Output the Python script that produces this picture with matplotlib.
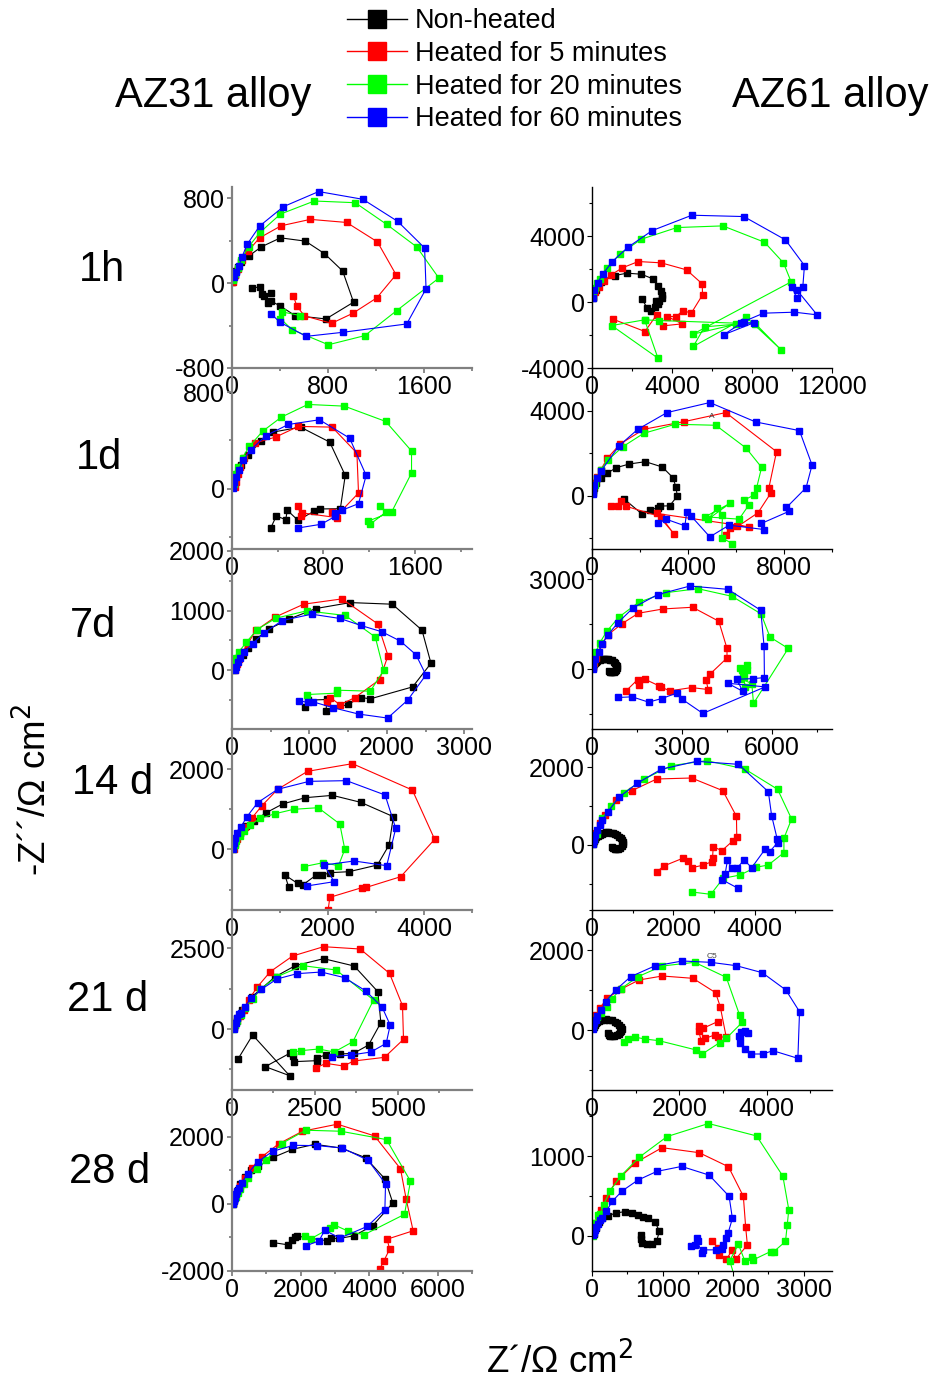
import matplotlib
matplotlib.use('Agg')
import numpy as np
import matplotlib.pyplot as plt
from matplotlib.lines import Line2D
from matplotlib.ticker import MultipleLocator, AutoMinorLocator

plt.rcParams['font.family'] = ['Liberation Sans', 'DejaVu Sans']
plt.rcParams['axes.unicode_minus'] = False

series_labels = ['Non-heated', 'Heated for 5 minutes', 'Heated for 20 minutes', 'Heated for 60 minutes']
series_colors = ['#000000', '#ff0000', '#00ff00', '#0000ff']
row_labels = ['1h', '1d', '7d', '14 d', '21 d', '28 d']
alloys = ['AZ31 alloy', 'AZ61 alloy']

# ---- AZ31, 1h  (Z', -Z'') ----
az31_1h_non = [(3, 9), (11, 41), (22, 73), (36, 114), (50, 151), (78, 199), (141, 256), (244, 341), (404, 426),
               (612, 395), (770, 278), (922, 114), (1013, -180), (783, -338), (526, -306), (404, -218), (327, -170),
               (299, -189), (266, -126), (321, -95), (252, -107), (230, -38), (169, -44)]
az31_1h_5 = [(11, 9), (28, 73), (50, 136), (83, 215), (133, 300), (230, 426), (410, 540), (653, 600), (955, 571),
             (1212, 388), (1367, 79), (1207, -139), (1008, -284), (830, -379), (603, -309), (540, -215), (512, -123)]
az31_1h_20 = [(8, 25), (28, 88), (50, 145), (72, 215), (138, 341), (233, 477), (404, 650), (686, 773), (1027, 757),
              (1290, 552), (1539, 341), (1724, 47), (1373, -259), (1107, -495), (803, -581), (501, -439), (404, -335),
              (415, -271), (570, -306)]
az31_1h_60 = [(14, 57), (36, 104), (58, 158), (83, 246), (127, 366), (230, 537), (429, 720), (722, 862), (1091, 789),
              (1381, 581), (1605, 331), (1617, -54), (1456, -385), (922, -464), (617, -502), (396, -366), (327, -290)]

# ---- AZ61, 1h ----
az61_1h_non = [(50, 243), (183, 749), (466, 1256), (1132, 1620), (1748, 1762), (2464, 1701), (3047, 1418),
               (3297, 1013), (3430, 689), (3497, 446), (3497, 243), (3347, 101), (3180, 81), (3297, -101),
               (3130, -263), (2930, -506), (2747, -324), (2481, 223)]
az61_1h_5 = [(33, 304), (150, 648), (333, 952), (599, 1316), (932, 1640), (1515, 2086), (2314, 2471), (3463, 2390),
             (4729, 1964), (5511, 1114), (5528, 446), (4962, -668), (4545, -506), (4212, -871), (3763, -871),
             (4512, -1316), (3563, -1438), (3230, -770), (2647, -1782), (1049, -1033)]
az61_1h_20 = [(33, 344), (133, 851), (266, 1154), (400, 1418), (766, 2066), (1382, 2916), (2464, 3827), (4246, 4536),
              (6543, 4637), (8625, 3645), (9574, 2390), (9957, 1235), (5045, -1944), (7209, -1337), (5628, -1499),
              (5062, -2693), (7709, -911), (9457, -2896), (8175, -1316), (3347, -1114), (2631, -1073), (982, -1418),
              (3297, -3402), (2631, -1073)]
az61_1h_60 = [(33, 243), (117, 749), (283, 1195), (549, 1721), (1016, 2471), (1798, 3341), (3014, 4354), (4995, 5285),
              (7592, 5204), (9674, 3787), (10623, 2228), (10539, 911), (10240, 243), (9990, 952), (10240, 749),
              (11255, -770), (10123, -608), (8575, -668), (7592, -1175), (6577, -1985), (8125, -1235), (7426, -1276)]

# ---- AZ31, 1d ----
az31_1d_non = [(14, 28), (26, 69), (43, 124), (78, 193), (142, 276), (252, 395), (360, 469), (600, 510), (855, 386),
               (991, 110), (948, -166), (774, -168), (716, -188), (577, -262), (484, -179), (470, -257), (388, -226),
               (339, -326)]
az31_1d_5 = [(26, 14), (38, 55), (49, 124), (72, 179), (107, 257), (200, 378), (383, 428), (580, 516), (876, 510),
             (1093, 295), (1107, -36), (913, -229), (876, -193), (919, -240), (615, -201), (600, -223), (580, -146)]
az31_1d_20 = [(14, 41), (26, 119), (55, 179), (93, 257), (151, 350), (267, 475), (432, 593), (664, 698), (983, 684),
              (1345, 557), (1571, 312), (1571, 130), (1397, -193), (1194, -268), (1209, -295), (1348, -193),
              (1296, -143)]
az31_1d_60 = [(9, 8), (20, 55), (38, 97), (58, 157), (99, 235), (165, 323), (296, 439), (493, 532), (765, 571),
              (1029, 419), (1174, 110), (1107, -124), (962, -179), (904, -201), (904, -229), (780, -295), (577, -326)]

# ---- AZ61, 1d ----
az61_1d_non = [(41, 141), (97, 345), (180, 581), (387, 816), (622, 1051), (1010, 1318), (1549, 1491), (2227, 1600),
               (2932, 1349), (3375, 847), (3499, 392), (3554, -16), (3236, -471), (2821, -486), (2752, -565),
               (2420, -659), (2088, -863), (1328, -141)]
az61_1d_5 = [(41, 267), (124, 581), (207, 894), (360, 1208), (636, 1757), (1176, 2432), (2157, 3122), (3845, 3483),
             (5573, 3907), (7689, 2071), (7371, 377), (7441, 110), (6915, -800), (5573, -1820), (5740, -1491),
             (6044, -1412), (6541, -1459), (2697, -832), (3402, -1773), (2877, -988), (1397, -486), (1189, -251),
             (1079, -486), (802, -486)]
az61_1d_20 = [(41, 235), (111, 502), (207, 816), (360, 1208), (664, 1679), (1286, 2306), (2157, 2934), (3471, 3358),
              (5159, 3311), (6417, 2244), (7067, 1334), (6860, 377), (6749, 31), (6334, -204), (6541, -424),
              (6127, -1098), (4716, -988), (5740, -361), (4841, -1098), (5228, -565), (5435, -894), (5408, -1977),
              (5850, -2244)]
az61_1d_60 = [(28, 78), (55, 267), (97, 502), (221, 816), (387, 1177), (1120, 2338), (1909, 3122), (3126, 3907),
              (4910, 4378), (6818, 3467), (8644, 3060), (9169, 1443), (8920, 377), (8104, -549), (8229, -722),
              (7053, -1302), (7164, -1585), (5712, -1381), (4910, -1930), (4121, -941), (3942, -785), (3872, -1412),
              (3084, -1098), (2752, -1302)]

# ---- AZ31, 7d ----
az31_7d_non = [(22, 28), (39, 100), (82, 211), (138, 250), (211, 378), (306, 517), (474, 689), (736, 856), (1081, 1033),
               (1528, 1133), (2071, 1106), (2454, 672), (2570, 117), (2333, -278), (1787, -478), (1666, -456),
               (1494, -572), (1214, -678), (1227, -489), (981, -500), (943, -611)]
az31_7d_5 = [(39, 11), (65, 100), (95, 194), (138, 306), (202, 444), (310, 667), (555, 889), (926, 1106), (1421, 1195),
             (1881, 778), (2015, 244), (1907, -156), (1589, -456), (1395, -578), (1270, -456), (1223, -528)]
az31_7d_20 = [(17, 11), (30, 83), (56, 211), (86, 306), (185, 467), (319, 678), (568, 872), (964, 995), (1464, 917),
              (1851, 556), (1959, 0), (1787, -350), (1352, -333), (1352, -383), (964, -406)]
az31_7d_60 = [(39, 0), (56, 56), (73, 133), (99, 211), (151, 306), (267, 444), (409, 622), (650, 833), (1029, 939),
              (1395, 867), (1666, 750), (1937, 644), (2174, 489), (2376, 261), (2505, -78), (2269, -500), (2010, -800),
              (1636, -733), (1309, -628), (1046, -528), (977, -539), (861, -506)]

# ---- AZ61, 7d ----
az61_7d_non = [(22, 55), (40, 110), (60, 160), (90, 210), (121, 243), (180, 285), (254, 320), (320, 340), (397, 353),
               (470, 350), (540, 342), (610, 325), (673, 298), (725, 255), (772, 210), (805, 155), (827, 99), (825, 40),
               (805, -11), (770, -55), (728, -88), (680, -100), (629, -99), (590, -75), (551, -44)]
az61_7d_5 = [(33, 77), (77, 210), (143, 386), (320, 827), (529, 1147), (993, 1511), (1544, 1864), (2371, 2007),
             (3353, 2063), (4225, 1599), (4500, 695), (4500, 375), (3927, -165), (3805, -364), (3872, -673),
             (3320, -607), (2592, -717), (2294, -585), (2239, -552), (1765, -331), (1555, -529), (1522, -342),
             (1136, -717)]
az61_7d_20 = [(22, 132), (55, 353), (132, 574), (254, 871), (496, 1268), (893, 1732), (1555, 2228), (2460, 2548),
              (3530, 2680), (4666, 2427), (5636, 1842), (5934, 1070), (6541, 695), (5383, -1136), (5327, -474),
              (4941, -309), (5052, -254), (5107, -585), (5019, -88), (4930, 55), (5162, 132), (5173, -33), (4997, -33)]
az61_7d_60 = [(22, 22), (44, 154), (99, 353), (232, 574), (331, 827), (529, 1147), (871, 1555), (1379, 2051),
              (2184, 2482), (3265, 2769), (4533, 2658), (5625, 1963), (5736, 761), (5747, -276), (5383, -309),
              (4831, -331), (5019, -728), (4522, -463), (5769, -585), (3695, -1467), (3000, -993), (2846, -783),
              (2327, -971), (1886, -1092), (1335, -915), (882, -937)]

# ---- AZ31, 14 d ----
az31_14d_non = [(28, 25), (49, 133), (90, 249), (159, 398), (291, 581), (464, 714), (714, 913), (1054, 1129),
                (1525, 1286), (2093, 1344), (2683, 1170), (3362, 813), (3272, 108), (3029, -390), (2440, -556),
                (2045, -581), (1865, -647), (1747, -647), (1470, -888), (1366, -847), (1102, -639), (1178, -929)]
az31_14d_5 = [(42, 0), (69, 133), (111, 249), (173, 398), (277, 564), (409, 772), (624, 1087), (950, 1494),
              (1574, 1942), (2509, 2133), (3757, 1477), (4222, 249), (3515, -681), (2801, -946), (2704, -954),
              (2038, -1195), (2003, -1510)]
az31_14d_20 = [(28, 0), (55, 108), (90, 216), (159, 332), (256, 465), (381, 606), (589, 772), (901, 888), (1282, 996),
               (1795, 1037), (2246, 631), (2350, 0), (2218, -407), (1899, -332), (1490, -432)]
az31_14d_60 = [(28, 0), (49, 149), (69, 274), (111, 398), (187, 564), (312, 813), (534, 1162), (950, 1494),
               (1608, 1693), (2385, 1710), (3189, 1353), (3411, 523), (3223, -407), (2544, -290), (1920, -390),
               (2128, -805), (1553, -913)]

# ---- AZ61, 14 d ----
az61_14d_non = [(16, 26), (30, 70), (49, 112), (75, 160), (106, 197), (145, 235), (188, 266), (235, 290), (286, 309),
                (340, 322), (392, 326), (455, 320), (514, 309), (570, 288), (620, 258), (675, 215), (718, 172),
                (748, 125), (767, 77), (755, 25), (727, -26), (690, -65), (645, -94), (600, -100), (555, -94),
                (520, -70), (490, -43)]
az61_14d_5 = [(16, 86), (49, 197), (90, 300), (188, 558), (318, 773), (580, 1159), (980, 1399), (1592, 1700),
              (2449, 1725), (3216, 1399), (3551, 738), (3559, 215), (3469, 112), (3192, -146), (2980, -43),
              (2963, -343), (2947, -429), (2718, -524), (2449, -584), (2367, -403), (2229, -343), (1763, -541),
              (1600, -687)]
az61_14d_20 = [(16, 43), (57, 146), (122, 283), (253, 687), (473, 1004), (784, 1348), (1273, 1691), (1943, 2043),
               (2816, 2172), (3755, 1957), (4563, 1434), (4906, 670), (4718, 172), (4718, -197), (4335, -515),
               (4024, -575), (3641, -773), (3224, -858), (2922, -1270), (2449, -1210)]
az61_14d_60 = [(16, 26), (41, 129), (73, 258), (122, 386), (188, 515), (253, 644), (392, 858), (661, 1228),
               (1110, 1588), (1698, 1949), (2571, 2155), (3600, 2077), (4335, 1373), (4416, 755), (4555, 146),
               (4563, 60), (4367, -172), (4253, -112), (3926, -584), (3739, -386), (3559, -601), (3437, -601),
               (3331, -386), (3273, -747), (3208, -901), (3592, -1116)]

# ---- AZ31, 21 d ----
az31_21d_non = [(40, 52), (80, 176), (151, 331), (302, 589), (604, 1002), (1308, 1622), (1911, 1963), (2767, 2180),
                (3692, 1952), (4406, 1157), (4497, 196), (4125, -496), (3672, -754), (3249, -775), (2837, -806),
                (2565, -888), (2565, -981), (1861, -1012), (1841, -826), (1740, -754), (1006, -1167), (1740, -1446),
                (624, -186), (181, -930)]
az31_21d_5 = [(60, 21), (91, 124), (141, 258), (231, 403), (352, 589), (503, 899), (755, 1291), (1157, 1777),
              (1831, 2262), (2767, 2551), (3873, 2479), (4758, 1725), (5151, 723), (5181, -320), (4607, -878),
              (3672, -992), (3370, -1147), (2837, -1064), (2545, -1198)]
az31_21d_20 = [(40, 10), (80, 124), (151, 258), (272, 434), (402, 640), (624, 919), (855, 1229), (1358, 1622),
               (2143, 1963), (3149, 1828), (4276, 899), (3652, -393), (3088, -713), (2616, -620), (2082, -671),
               (1841, -723)]
az31_21d_60 = [(50, -10), (70, 72), (111, 176), (161, 331), (221, 465), (282, 486), (382, 692), (573, 950),
               (885, 1229), (1358, 1550), (1962, 1715), (2696, 1766), (3400, 1591), (4044, 1178), (4537, 671),
               (4779, 124), (4658, -444), (4195, -713), (3592, -806), (3018, -857)]

# ---- AZ61, 21 d ----
az61_21d_non = [(23, 42), (40, 85), (61, 125), (90, 165), (122, 200), (165, 228), (214, 250), (270, 262), (328, 267),
                (400, 258), (466, 242), (525, 212), (580, 175), (630, 125), (672, 67), (680, 20), (672, -17),
                (645, -60), (611, -100), (565, -130), (511, -150), (465, -155), (420, -150), (395, -120), (374, -83)]
az61_21d_5 = [(23, 125), (46, 250), (84, 375), (176, 542), (344, 792), (657, 1017), (1076, 1250), (1611, 1350),
              (2313, 1292), (2832, 933), (2939, 583), (3077, -183), (2893, -167), (2809, -125), (2596, -208),
              (2504, -267), (2443, -25), (2443, 100), (2542, 42), (2878, 208)]
az61_21d_20 = [(23, 83), (53, 192), (115, 317), (214, 433), (344, 583), (450, 767), (657, 1025), (1053, 1333),
               (1611, 1600), (2351, 1692), (3077, 1317), (3382, 375), (3443, 192), (3077, -208), (2924, -317),
               (2527, -600), (2390, -500), (1534, -267), (1206, -225), (977, -175), (824, -217), (725, -292)]
az61_21d_60 = [(15, 17), (31, 83), (53, 167), (84, 250), (122, 350), (214, 500), (313, 708), (542, 1000), (886, 1333),
               (1435, 1600), (2069, 1725), (2718, 1692), (3306, 1608), (3901, 1433), (4443, 1000), (4756, 458),
               (4718, -708), (4145, -517), (3916, -600), (3649, -600), (3504, -475), (3397, -317), (3382, -183),
               (3420, -42), (3496, -25), (3573, -67), (3359, -142)]

# ---- AZ31, 28 d ----
az31_28d_non = [(29, 30), (58, 150), (97, 270), (165, 420), (242, 590), (378, 800), (553, 1020), (766, 1120),
                (1202, 1390), (1764, 1630), (2414, 1780), (3170, 1670), (3896, 1380), (4459, 750), (4691, 30),
                (4100, -650), (3557, -950), (3121, -1030), (2879, -1030), (2782, -1100), (1910, -960), (1832, -1000),
                (1745, -1080), (1638, -1220), (1192, -1150)]
az31_28d_5 = [(39, 0), (58, 130), (97, 230), (145, 350), (242, 530), (378, 780), (572, 1070), (863, 1400),
              (1357, 1790), (2055, 2170), (3073, 2380), (4159, 2030), (4914, 1050), (5079, 150), (5283, -800),
              (4527, -1050), (4595, -1350), (4430, -1700), (4313, -1930), (4255, -2350)]
az31_28d_20 = [(39, 10), (68, 110), (107, 210), (165, 330), (242, 450), (359, 600), (475, 780), (727, 1050),
               (989, 1300), (1444, 1800), (2152, 2200), (3170, 2170), (4507, 1920), (5205, 680), (5031, -310),
               (3848, -920), (3383, -810), (2976, -620), (2859, -720), (2297, -1040), (2123, -960)]
az31_28d_60 = [(39, 10), (58, 100), (87, 190), (116, 290), (145, 400), (194, 470), (281, 630), (456, 900),
               (746, 1250), (1183, 1570), (1793, 1750), (2491, 1740), (3218, 1670), (3974, 1300), (4478, 600),
               (4459, -170), (3945, -670), (3140, -1020), (2704, -780), (2540, -1100), (2152, -1250)]

# ---- AZ61, 28 d ----
az61_28d_non = [(24, 25), (52, 97), (94, 168), (141, 218), (226, 252), (343, 286), (461, 303), (564, 286), (649, 261),
                (719, 235), (799, 218), (893, 176), (955, 55), (917, -59), (846, -105), (776, -105), (715, -84),
                (691, -42), (696, 8)]
az61_28d_5 = [(14, 34), (28, 97), (52, 160), (94, 235), (132, 328), (193, 475), (343, 685), (616, 916), (992, 1105),
              (1519, 1042), (1933, 866), (2144, 496), (2177, 109), (2201, -113), (2036, -294), (1989, -176),
              (1904, -294), (1801, -244), (1782, -147), (1707, -71)]
az61_28d_20 = [(9, 0), (24, 76), (42, 160), (80, 265), (118, 277), (165, 391), (259, 567), (414, 756), (672, 987),
               (1063, 1244), (1650, 1408), (2332, 1252), (2704, 748), (2788, 328), (2765, 130), (2741, -71),
               (2577, -197), (2530, -197), (2280, -303), (2271, -261), (2163, -311), (2074, -105), (1951, -311),
               (2012, -492)]
az61_28d_60 = [(14, 8), (24, 34), (42, 67), (61, 109), (85, 147), (118, 202), (141, 223), (202, 307), (287, 433),
               (428, 563), (649, 698), (917, 807), (1270, 870), (1660, 761), (1942, 496), (1989, 218), (1928, 34),
               (1895, -29), (1857, -113), (1848, -168), (1754, -176), (1566, -176), (1556, -218), (1495, -71),
               (1481, -29), (1458, -113), (1401, -122)]

panel_data = [
    [[az31_1h_non, az31_1h_5, az31_1h_20, az31_1h_60], [az61_1h_non, az61_1h_5, az61_1h_20, az61_1h_60]],
    [[az31_1d_non, az31_1d_5, az31_1d_20, az31_1d_60], [az61_1d_non, az61_1d_5, az61_1d_20, az61_1d_60]],
    [[az31_7d_non, az31_7d_5, az31_7d_20, az31_7d_60], [az61_7d_non, az61_7d_5, az61_7d_20, az61_7d_60]],
    [[az31_14d_non, az31_14d_5, az31_14d_20, az31_14d_60], [az61_14d_non, az61_14d_5, az61_14d_20, az61_14d_60]],
    [[az31_21d_non, az31_21d_5, az31_21d_20, az31_21d_60], [az61_21d_non, az61_21d_5, az61_21d_20, az61_21d_60]],
    [[az31_28d_non, az31_28d_5, az31_28d_20, az31_28d_60], [az61_28d_non, az61_28d_5, az61_28d_20, az61_28d_60]],
]

# axis ranges and tick steps: (xlim, ylim, xstep, ystep)
panel_axes = [
    [((0, 2000), (-800, 905), 800, 800), ((0, 12000), (-4000, 7000), 4000, 4000)],
    [((0, 2100), (-500, 1000), 800, 800), ((0, 10000), (-2500, 6000), 4000, 4000)],
    [((0, 3100), (-983, 2030), 1000, 1000), ((0, 8000), (-1985, 4000), 3000, 3000)],
    [((0, 5000), (-1510, 2996), 2000, 2000), ((0, 5900), (-1674, 2987), 2000, 2000)],
    [((0, 7250), (-1890, 3688), 2500, 2500), ((0, 5500), (-1500, 3000), 2000, 2000)],
    [((0, 7000), (-2000, 3400), 2000, 2000), ((0, 3400), (-441, 1828), 1000, 1000)],
]

W, H = 933, 1385
row_edges = [187, 368, 549, 729, 910, 1090, 1271]
col_edges = [(232, 472), (592, 832)]

fig = plt.figure(figsize=(W / 100, H / 100), dpi=100)

for r in range(6):
    y0, y1 = row_edges[r], row_edges[r + 1]
    for c in range(2):
        x0, x1 = col_edges[c]
        ax = fig.add_axes([x0 / W, 1 - y1 / H, (x1 - x0) / W, (y1 - y0) / H])
        ax.patch.set_alpha(0)
        xlim, ylim, xs, ys = panel_axes[r][c]
        for pts, col in zip(panel_data[r][c], series_colors):
            xy = np.array(pts, dtype=float)
            ax.plot(xy[:, 0], xy[:, 1], '-s', color=col, lw=0.8, ms=3.8, mec=col)
        ax.set_xlim(*xlim)
        ax.set_ylim(*ylim)
        ax.xaxis.set_major_locator(MultipleLocator(xs))
        ax.yaxis.set_major_locator(MultipleLocator(ys))
        ax.xaxis.set_minor_locator(AutoMinorLocator(2))
        ax.yaxis.set_minor_locator(AutoMinorLocator(2))
        spine_col = '#808080' if c == 0 else 'black'
        spine_lw = 1.6 if c == 0 else 1.0
        for s in ['top', 'right']:
            ax.spines[s].set_visible(False)
        for s in ['left', 'bottom']:
            ax.spines[s].set_color(spine_col)
            ax.spines[s].set_linewidth(spine_lw)
        ax.tick_params(which='major', direction='out', length=3.5, width=spine_lw * 0.8,
                       color=spine_col, labelsize=18, pad=1.5)
        ax.tick_params(which='minor', direction='out', length=2.2, width=spine_lw * 0.8, color=spine_col)

        if r == 1 and c == 1:
            ax.text(5000, 3700, 'A', fontsize=6, color='#444444', ha='center', va='center')
        if r == 4 and c == 1:
            ax.text(2740, 1830, 'C5', fontsize=6, color='#444444', ha='center', va='center')

# titles and row labels
fig.text(213 / W, 1 - 96 / H, alloys[0], fontsize=30, ha='center', va='center')
fig.text(830 / W, 1 - 96 / H, alloys[1], fontsize=30, ha='center', va='center')
row_label_pos = [(102, 270), (99, 458), (93, 626), (113, 783), (108, 1000), (110, 1172)]
for lab, (px, py) in zip(row_labels, row_label_pos):
    fig.text(px / W, 1 - py / H, lab, fontsize=30, ha='center', va='center')

fig.text(35 / W, 1 - 790 / H, '-Z\u00b4\u00b4/\u03a9 cm$^2$', fontsize=26.5, rotation=90, ha='center', va='center')
fig.text(560 / W, 1 - 1362 / H, 'Z\u00b4/\u03a9 cm$^2$', fontsize=26.5, ha='center', va='center')

handles = [Line2D([0], [0], color=col, lw=1, marker='s', ms=13) for col in series_colors]
fig.legend(handles, series_labels, loc='upper left', bbox_to_anchor=(347 / W, 1 - 8 / H), frameon=False,
           fontsize=19.5, handlelength=2.2, handletextpad=0.3, labelspacing=0.25, borderaxespad=0, borderpad=0)

fig.savefig('out.png', dpi=100)
